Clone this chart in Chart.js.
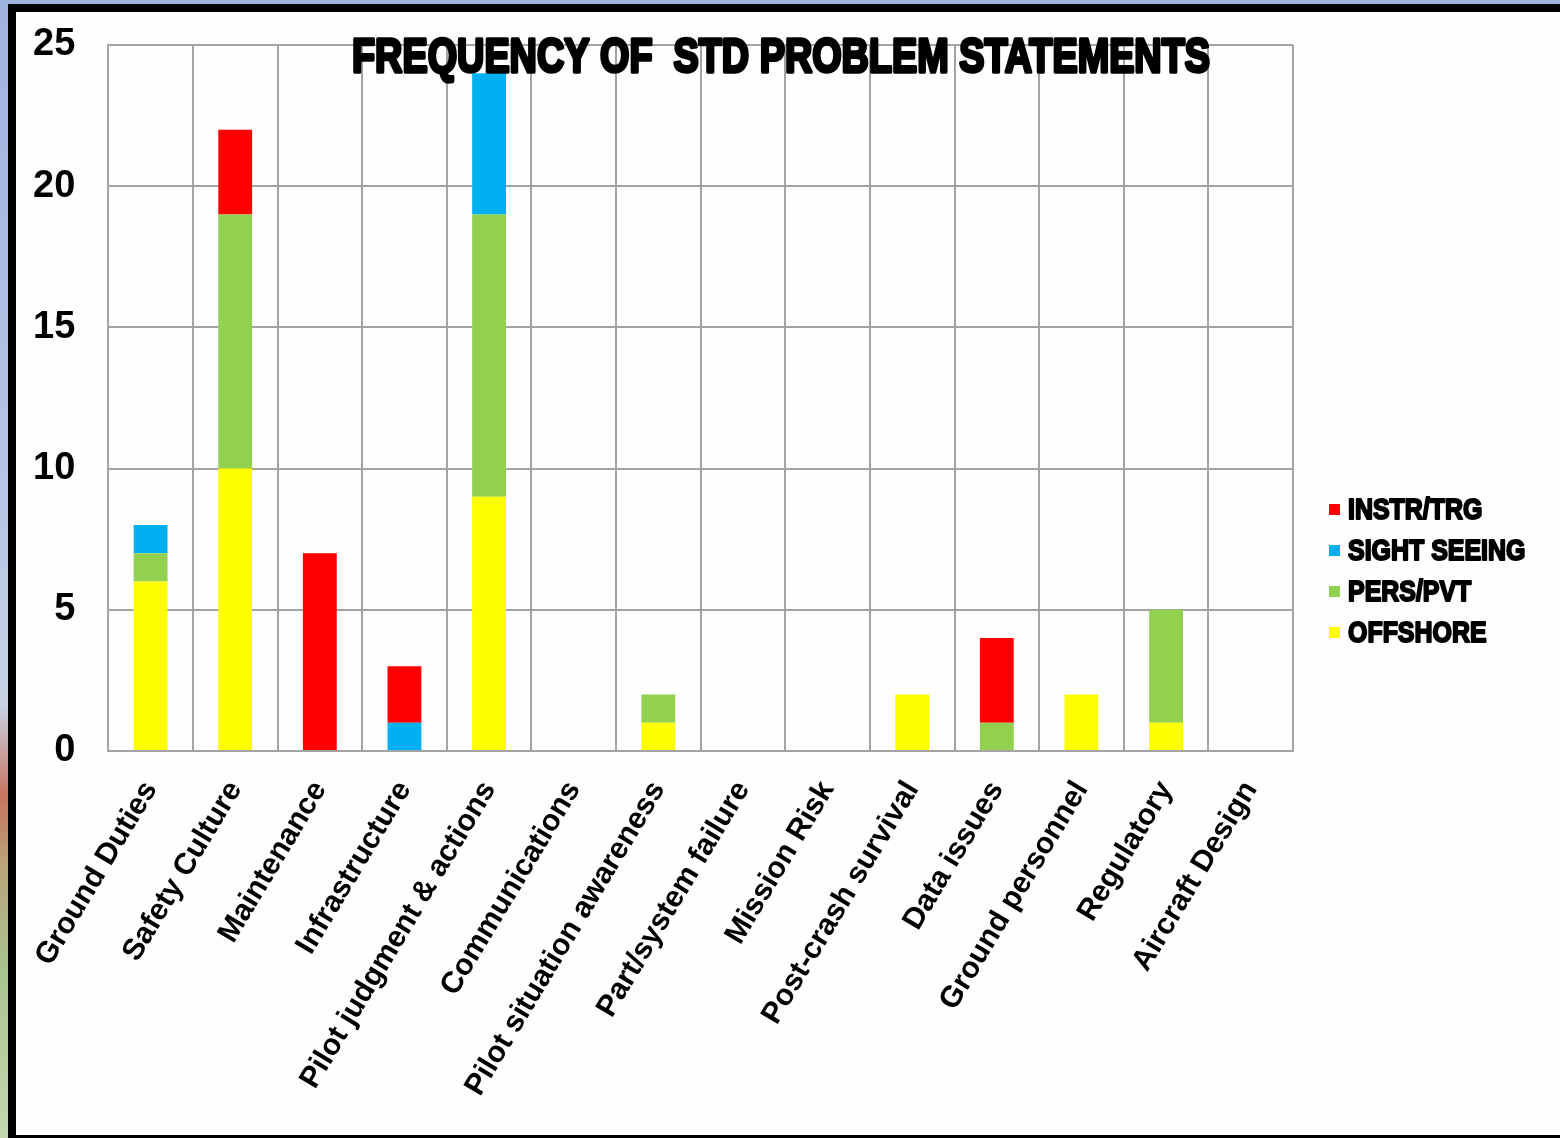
<!DOCTYPE html>
<html>
<head>
<meta charset="utf-8">
<script src="https://cdn.jsdelivr.net/npm/chart.js@4/dist/chart.umd.min.js"></script>
<style>
  html, body { margin: 0; padding: 0; }
  body {
    width: 1560px; height: 1138px; overflow: hidden; position: relative;
    background: linear-gradient(180deg, #9fb3df 0%, #b6c6e6 45%, #c9d2e4 62%, #c8745f 70%, #b9a27a 76%, #a9c48f 85%, #c3d6ae 100%);
  }
  #frame {
    position: absolute; left: 8px; top: 4px; right: 0; bottom: 0;
    border-left: 8px solid #000; border-top: 8px solid #000; border-bottom: 3px solid #000;
    background: #fefefe;
  }
  #wrap { position: absolute; left: 16px; top: 12px; width: 1544px; height: 1123px; }
</style>
</head>
<body>
<div id="frame"></div>
<div id="wrap"><canvas id="chart"></canvas></div>
<script>
// ---------- Data ----------
const CATEGORIES = [
  "Ground Duties", "Safety Culture", "Maintenance", "Infrastructure",
  "Pilot judgment & actions", "Communications", "Pilot situation awareness",
  "Part/system failure", "Mission Risk", "Post-crash survival", "Data issues",
  "Ground personnel", "Regulatory", "Aircraft Design",
];
const OFFSHORE     = [6, 10, 0, 0, 9, 0, 1, 0, 0, 2, 0, 2, 1, 0];
const PERS_PVT     = [1, 9, 0, 0, 10, 0, 1, 0, 0, 0, 1, 0, 4, 0];
const SIGHT_SEEING = [1, 0, 0, 1, 5, 0, 0, 0, 0, 0, 0, 0, 0, 0];
const INSTR_TRG    = [0, 3, 7, 2, 0, 0, 0, 0, 0, 0, 3, 0, 0, 0];
const Y_TICKS = [0, 5, 10, 15, 20, 25];
const TITLE = "FREQUENCY OF  STD PROBLEM STATEMENTS";

const SERIES = [
  { label: "OFFSHORE", data: OFFSHORE, color: "#ffff00" },
  { label: "PERS/PVT", data: PERS_PVT, color: "#92d050" },
  { label: "SIGHT SEEING", data: SIGHT_SEEING, color: "#00b0f0" },
  { label: "INSTR/TRG", data: INSTR_TRG, color: "#ff0000" },
];

const GRID = "#a3a3a3";
const FONT = "'Liberation Sans', Arial, sans-serif";

// ---------- Title + legend (drawn on top, squeezed like the original) ----------
const overlay = {
  id: "overlay",
  afterDraw(chart) {
    const ctx = chart.ctx;
    ctx.save();
    ctx.fillStyle = "#000";
    ctx.strokeStyle = "#000";
    ctx.lineJoin = "round";
    ctx.textBaseline = "alphabetic";

    // title
    ctx.font = "bold 49px " + FONT;
    const w = ctx.measureText(TITLE).width;
    ctx.save();
    ctx.translate(336, 60);
    ctx.scale(858 / w, 1);
    ctx.lineWidth = 3.5;
    ctx.strokeText(TITLE, 0, 0);
    ctx.fillText(TITLE, 0, 0);
    ctx.restore();

    // legend, top to bottom reversed from stack order
    ctx.font = "bold 29px " + FONT;
    ctx.textBaseline = "middle";
    [...SERIES].reverse().forEach((s, i) => {
      const y = 498 + i * 41;
      ctx.fillStyle = s.color;
      ctx.fillRect(1313, y - 6, 11, 11);
      ctx.fillStyle = "#000";
      ctx.save();
      ctx.translate(1332, y + 1);
      ctx.scale(0.86, 1);
      ctx.lineWidth = 2;
      ctx.strokeText(s.label, 0, 0);
      ctx.fillText(s.label, 0, 0);
      ctx.restore();
    });
    ctx.restore();
  },
};

new Chart(document.getElementById("chart"), {
  type: "bar",
  data: {
    labels: CATEGORIES,
    datasets: SERIES.map((s) => ({
      label: s.label,
      data: s.data,
      backgroundColor: s.color,
      borderWidth: 0,
      categoryPercentage: 1,
      barPercentage: 0.4,
    })),
  },
  options: {
    responsive: true,
    maintainAspectRatio: false,
    animation: false,
    layout: { padding: { top: 33, right: 267, left: 0, bottom: 0 } },
    plugins: { legend: { display: false }, tooltip: { enabled: false }, title: { display: false } },
    scales: {
      x: {
        stacked: true,
        grid: { color: GRID, lineWidth: 2, offset: true, drawTicks: false },
        border: { color: GRID, width: 2 },
        ticks: {
          color: "#000",
          font: { family: FONT, size: 30, weight: "bold" },
          minRotation: 59,
          maxRotation: 59,
          padding: 24,
          autoSkip: false,
        },
        afterFit: (s) => { s.height = 384; s.paddingTop = 0; },
      },
      y: {
        stacked: true,
        min: 0,
        max: 25,
        afterBuildTicks: (s) => { s.ticks = Y_TICKS.map((v) => ({ value: v })); },
        grid: { color: GRID, lineWidth: 2, drawTicks: false },
        border: { color: GRID, width: 2 },
        ticks: {
          color: "#000",
          font: { family: FONT, size: 38, weight: "bold" },
          padding: 33,
        },
        afterFit: (s) => { s.width = 92; s.paddingTop = 0; s.paddingBottom = 0; },
      },
    },
  },
  plugins: [overlay],
});
</script>
</body>
</html>
